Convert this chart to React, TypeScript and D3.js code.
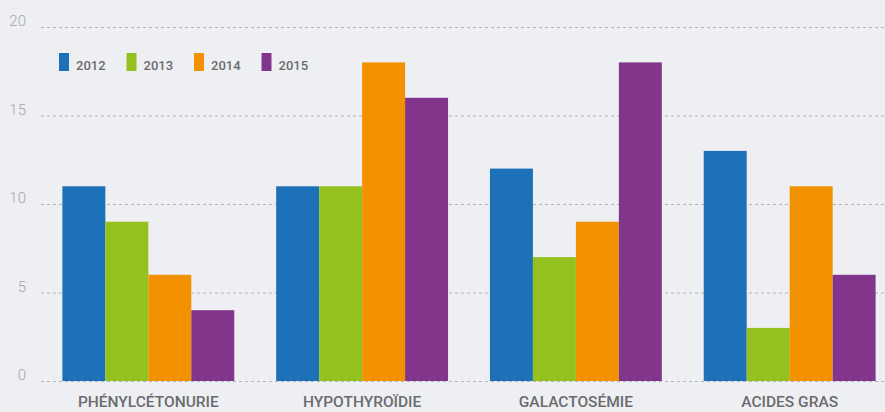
import React from "react";
import * as d3 from "d3";

const categories = ["PHÉNYLCÉTONURIE", "HYPOTHYROÏDIE", "GALACTOSÉMIE", "ACIDES GRAS"];
const series = ["2012", "2013", "2014", "2015"];
const values2012 = [11, 11, 12, 13];
const values2013 = [9, 11, 7, 3];
const values2014 = [6, 18, 9, 11];
const values2015 = [4, 16, 18, 6];
const yTicks = [0, 5, 10, 15, 20];
const colors = ["#1d71b8", "#95c11f", "#f39200", "#82368b"];

const W = 885;
const H = 412;

export default function App() {
  const allValues = [values2012, values2013, values2014, values2015];
  const y = d3.scaleLinear().domain([0, 20]).range([381, 27]);
  const x0 = d3
    .scaleBand<string>()
    .domain(categories)
    .range([41, 897])
    .paddingInner(0.196)
    .paddingOuter(0.1);
  const x1 = d3.scaleBand<string>().domain(series).range([0, x0.bandwidth()]).padding(0);
  const legendX = d3.scaleLinear().domain([0, 1]).range([59, 126.5]);

  return (
    <div style={{ position: "fixed", left: 0, top: 0, width: W, height: H, overflow: "hidden" }}>
      <svg width={W} height={H} style={{ display: "block", background: "#eeeff3" }}>
        <rect x={0} y={0} width={W} height={H} fill="#eeeff3" />
        {yTicks.map((t) => (
          <g key={t}>
            <line
              x1={41}
              x2={W}
              y1={y(t) + 0.5}
              y2={y(t) + 0.5}
              stroke="#b4b4b8"
              strokeDasharray="3,3"
              strokeWidth={1}
            />
            <text
              x={26}
              y={y(t) - 1}
              textAnchor="end"
              fontFamily="Roboto, sans-serif"
              fontWeight={300}
              fontSize={15}
              fill="#a6a6aa"
            >
              {t}
            </text>
          </g>
        ))}
        {categories.map((c, ci) => (
          <g key={c} transform={`translate(${x0(c)},0)`}>
            {series.map((s, si) => {
              const v = allValues[si][ci];
              return (
                <rect
                  key={s}
                  x={x1(s)}
                  y={y(v)}
                  width={x1.bandwidth()}
                  height={y(0) - y(v)}
                  fill={colors[si]}
                />
              );
            })}
            <text
              x={x0.bandwidth() / 2}
              y={407}
              textAnchor="middle"
              fontFamily="Roboto, sans-serif"
              fontWeight={500}
              fontSize={15.5}
              fill="#6b6b6e"
            >
              {c}
            </text>
          </g>
        ))}
        {series.map((s, si) => (
          <g key={s} transform={`translate(${legendX(si)},0)`}>
            <rect x={0} y={53} width={10} height={18} fill={colors[si]} />
            <text
              x={17}
              y={70}
              fontFamily="Roboto, sans-serif"
              fontWeight={500}
              fontSize={13}
              fill="#6b6b6e"
            >
              {s}
            </text>
          </g>
        ))}
      </svg>
    </div>
  );
}
